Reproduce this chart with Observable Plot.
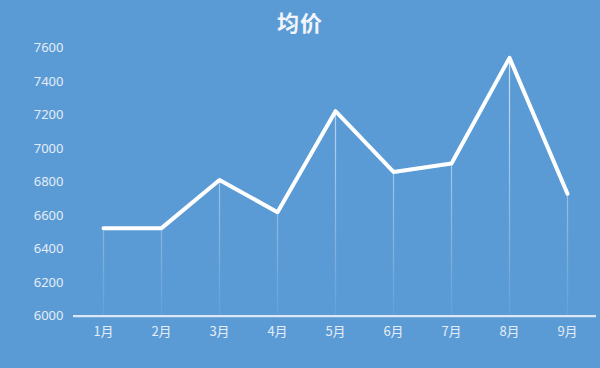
<!DOCTYPE html>
<html>
<head>
<meta charset="utf-8">
<script src="https://cdn.jsdelivr.net/npm/d3@7"></script>
<script src="https://cdn.jsdelivr.net/npm/@observablehq/plot@0.6"></script>
<style>
  html, body { margin: 0; padding: 0; background: #5b9bd5; }
  #wrap { position: relative; width: 600px; height: 368px; background: #5b9bd5; overflow: hidden; }
  #title { position: absolute; left: 0; top: 6px; width: 600px; text-align: center;
    font-family: "Noto Sans CJK SC", sans-serif; font-weight: bold; font-size: 22px; color: #f2f6fb; line-height: 30px; letter-spacing: 1px; }
</style>
</head>
<body>
<div id="wrap"><div id="title">均价</div></div>
<script>
const months = ["1月","2月","3月","4月","5月","6月","7月","8月","9月"];
const prices = [6525, 6525, 6812, 6620, 7222, 6860, 6910, 7540, 6730];
const yTicks = [6000, 6200, 6400, 6600, 6800, 7000, 7200, 7400, 7600];

const data = months.map((m, i) => ({month: m, price: prices[i]}));

const chart = Plot.plot({
  width: 600,
  height: 368,
  marginTop: 47.3,
  marginBottom: 52.3,
  marginLeft: 73,
  marginRight: 4,
  style: {background: "transparent", fontFamily: "'Noto Sans', 'Noto Sans CJK SC', sans-serif", fontSize: "13px", color: "#dfe9f5"},
  x: {type: "point", domain: months, padding: 0.5, label: null},
  y: {domain: [6000, 7600], label: null},
  marks: [
    Plot.axisY({ticks: yTicks, tickSize: 0, tickPadding: 10, tickFormat: d => String(d), fill: "#e4edf7", fontSize: 13}),
    Plot.axisX({tickSize: 0, tickPadding: 11, fill: "#e4edf7", fontSize: 13, fontFamily: "'Noto Sans CJK SC', sans-serif"}),
    Plot.ruleX(data, {x: "month", y1: 6000, y2: "price", stroke: "url(#dropGrad)", strokeWidth: 1.2}),
    Plot.ruleY([6000], {stroke: "#dbe7f4", strokeWidth: 2.2}),
    Plot.line(data, {x: "month", y: "price", stroke: "#ffffff", strokeWidth: 4, strokeLinejoin: "round", strokeLinecap: "round"})
  ]
});

const svg = d3.select(chart);
const defs = svg.insert("defs", ":first-child");
const g = defs.append("linearGradient").attr("id", "dropGrad")
  .attr("gradientUnits", "userSpaceOnUse")
  .attr("x1", 0).attr("x2", 0).attr("y1", 47).attr("y2", 316);
g.append("stop").attr("offset", "0%").attr("stop-color", "#ffffff").attr("stop-opacity", 0.75);
g.append("stop").attr("offset", "100%").attr("stop-color", "#ffffff").attr("stop-opacity", 0.05);

document.getElementById("wrap").appendChild(chart);
</script>
</body>
</html>
